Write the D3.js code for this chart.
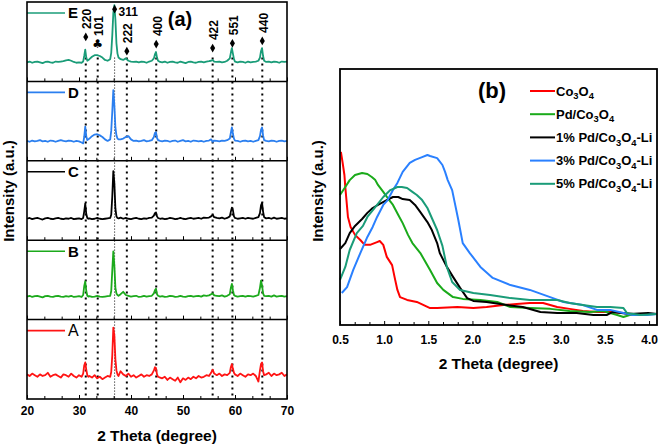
<!DOCTYPE html>
<html><head><meta charset="utf-8">
<script src="https://cdn.jsdelivr.net/npm/d3@7"></script>
<style>
body{margin:0;background:#fff}
svg{display:block}
text{font-family:"Liberation Sans",Arial,Helvetica,sans-serif}
</style>
</head><body>
<svg id="c" width="661" height="444"></svg>
<script>
// ---------------- DATA: panel (a) XRD ----------------
const twoTheta = [
 20,20.5,21,21.5,22,22.5,23,23.5,24,24.5,25,25.5,26,26.5,27,27.5,28,28.5,29,29.5,30,30.5,
 30.8,31.0,31.2,31.4,31.6,31.8,
 32,32.5,33,33.5,34,34.5,35,35.5,36,
 36.2,36.4,36.6,36.8,37.0,37.2,37.4,37.6,
 38,38.5,39,39.5,40,40.5,41,41.5,42,42.5,43,43.5,44,
 44.4,44.6,44.8,45.0,45.2,45.6,
 46,46.5,47,47.5,48,48.5,49,49.5,50,50.5,51,51.5,52,52.5,53,53.5,54,54.5,55,
 55.4,55.7,56,
 56.5,57,57.5,58,58.5,59,
 59.2,59.4,59.6,59.8,
 60,60.5,61,61.5,62,62.5,63,63.5,64,64.5,
 64.8,65.0,65.2,65.4,65.6,
 66,66.5,67,67.5,68,68.5,69,69.5,70
];
const xrdE = [
 24,25,23.5,24.5,25,24,23,24.5,25,24,23.5,25,24.5,25,25.5,26.5,27,26,24.5,23.5,24,23.5,
 25,32,40,30,26,27,
 28,31,33,33,32,30,27,26,28,
 36,58,86,96,78,48,35,30,
 28,27,29,26,25,24.5,25,24,25,24.5,23.5,25,26,
 29,34,37,30,26,24.5,
 24,25,23.5,24.5,25,24,23.5,25,24,23,24.5,25,24,23.5,24.5,25,24,25,25.5,
 26,27,25,
 24.5,25,24,24.5,26,29,
 36,42,35,28,
 25,24,25,24.5,23.5,25,24,24.5,25,26,
 30,38,42,32,26,
 24.5,25,24,25,24.5,23.5,25,24.5,25
];
const xrdD = [
 25,24,25.5,24.5,25,26,24.5,25,24,25.5,25,24,25,26,25,24.5,25.5,25,24,25,24.5,23,
 22,30,43,31,26,27,
 28,31,33,33.5,32,30,27,25,27,
 38,62,89,70,42,32,28,27,
 27,28,30,31,27,25,25.5,24.5,25,26,24.5,25,26,
 30,35,36,29,26,25,
 24.5,25.5,25,24,25,25.5,24,25,26,24.5,25,24,25.5,25,24.5,25,24,25,25.5,
 27,24,25.5,
 25,24.5,25.5,25,26,28,
 35,42,34,28,
 25.5,25,24,25,25.5,24.5,25,24,25,26,
 31,39,42,32,26,
 25,24.5,25.5,25,24,25,25.5,24.5,25
];
const xrdC = [
 27,28,26.5,27.5,28,27,26,27.5,28,27,26.5,27.5,28,27,26.5,27.5,27,28,26.5,27,27.5,26.5,
 28,36,46,33,28,27,
 27.5,26.5,27,28,27,26.5,27,27.5,28,
 32,55,87,72,40,30,28,27.5,
 28.5,27,28,27,26.5,27.5,28,27,26.5,27.5,27,28,28.5,
 31,34,35,30,28,27,
 27.5,26.5,27,28,27.5,26.5,27,28,27,26.5,27.5,28,27,27.5,28,27,28.5,28,28.5,
 30,32,29,
 28,27.5,28.5,27,28,30,
 36,41,38,30,
 28,27,27.5,28,27,28,27.5,27,28,29,
 34,44,47,36,29,
 27.5,28,27,28.5,27,27.5,28,27,27.5
];
const xrdB = [
 29,30,28.5,29.5,30,29,28,29.5,30,29,28.5,29.5,30,29,28.5,29.5,29,30,28.5,29,29.5,28.5,
 31,42,48,36,30,29,
 29.5,28.5,29,30,29,28.5,29,29.5,30,
 36,62,86,68,40,33,31,30,
 32,35,31,30,29,29.5,30,28.5,29,30,29,29.5,30,
 33,37,39,32,30,29,
 29.5,28.5,29,30,29.5,28.5,29,30,29,28.5,29.5,30,29,29.5,30,29,30.5,30,30.5,
 32,33,30.5,
 30,29.5,30.5,29,30,32,
 40,45,37,31,
 30,29,29.5,30,29,30,29.5,29,30,31,
 40,49,43,33,30,
 29.5,30,29,30.5,29,29.5,30,29,29.5
];
const xrdA = [
 31,29,32,30,28,31,29,30,33,28,30,31,29,27,31,30,28,32,29,27,30,28,
 32,42,46,37,30,28,
 29,27,30,26,28,25,27,29,28,
 34,55,90,80,50,36,31,29,
 35,31,29,32,28,30,27,29,31,28,30,29,31,
 36,40,39,31,28,27,
 26,28,24,27,25,23,27,21,26,24,27,25,28,26,29,27,28,30,29,
 33,37,32,
 30,32,29,31,30,33,
 40,44,38,33,
 31,29,32,30,28,31,30,32,29,22,
 36,44,46,35,30,
 31,33,29,32,30,31,33,29,31
];
const xrdNames = ["E","D","C","B","A"];
const xrdTicks = [20,30,40,50,60,70];
// reflections
const peakHkl   = ["220","101","311","222","400","422","551","440"];
const peakTheta = [31.3, 33.6, 36.85, 39.2, 44.85, 55.7, 59.5, 65.25];
const peakKind  = ["spinel","pd","spinel","spinel","spinel","spinel","spinel","spinel"];
const peakMarkH = [56, 47, 91, 38, 47, 42, 48, 51]; // marker height in top-panel units

// ---------------- DATA: panel (b) ----------------
const saxsCo3O4 = [[0.51,67.6],[0.53,63.3],[0.55,58.6],[0.56,53.9],[0.58,46.1],[0.59,42.2],[0.62,38.3],[0.67,35.2],[0.73,33.2],[0.78,31.3],[0.84,31.3],[0.92,32.4],[0.95,32.8],[0.99,31.3],[1.03,26.6],[1.09,23.4],[1.12,18.4],[1.15,13.7],[1.18,10.9],[1.26,9.8],[1.37,9.0],[1.52,6.6],[1.60,6.6],[1.83,7.0],[2.01,6.6],[2.16,7.0],[2.35,7.8],[2.50,8.2],[2.65,8.6],[2.80,8.6],[2.96,7.0],[3.10,6.3],[3.25,5.5],[3.41,5.1],[3.56,5.1],[3.71,4.7],[3.82,4.3],[3.98,4.3],[4.09,4.3]];
const saxsPd = [[0.50,50.8],[0.56,53.9],[0.61,56.6],[0.67,58.6],[0.75,59.4],[0.81,59.0],[0.86,57.8],[0.90,56.6],[0.93,54.7],[0.99,52.0],[1.04,49.6],[1.10,46.9],[1.16,43.0],[1.21,39.8],[1.27,35.2],[1.32,32.0],[1.41,28.1],[1.52,21.5],[1.60,16.4],[1.67,13.7],[1.78,10.9],[1.89,10.2],[2.09,9.8],[2.28,9.0],[2.43,7.0],[2.65,6.6],[2.88,6.3],[3.10,5.5],[3.33,5.1],[3.48,5.5],[3.64,3.9],[3.71,3.1],[3.78,3.9],[3.98,4.3],[4.09,4.3]];
const saxs1Li = [[0.50,29.7],[0.56,32.0],[0.61,35.9],[0.67,38.7],[0.75,41.4],[0.81,43.8],[0.87,45.7],[0.95,47.3],[1.03,48.8],[1.10,50.0],[1.16,50.0],[1.21,49.2],[1.29,48.8],[1.35,46.9],[1.41,44.1],[1.49,40.2],[1.54,37.1],[1.60,32.0],[1.63,28.1],[1.71,22.7],[1.78,18.8],[1.86,14.5],[1.94,10.5],[2.01,9.4],[2.16,9.0],[2.39,7.8],[2.57,7.0],[2.77,5.1],[2.96,4.7],[3.18,4.7],[3.37,3.9],[3.52,3.9],[3.59,5.1],[3.78,4.3],[3.99,4.7],[4.09,4.3]];
const saxs3Li = [[0.52,12.5],[0.58,14.8],[0.65,21.5],[0.73,28.1],[0.81,34.4],[0.87,38.3],[0.92,42.2],[0.99,46.9],[1.04,48.8],[1.10,52.7],[1.15,55.5],[1.21,59.8],[1.29,63.3],[1.35,64.5],[1.43,65.6],[1.49,66.4],[1.52,66.0],[1.60,65.2],[1.66,62.5],[1.69,59.8],[1.72,56.6],[1.77,52.7],[1.80,47.7],[1.84,41.0],[1.89,32.0],[1.97,28.1],[2.09,22.7],[2.23,18.4],[2.43,15.6],[2.65,13.7],[2.88,10.9],[3.03,9.0],[3.25,7.8],[3.41,5.9],[3.56,5.9],[3.71,4.7],[3.82,3.9],[3.98,3.9],[4.09,4.3]];
const saxs5Li = [[0.50,17.6],[0.56,22.7],[0.61,29.3],[0.69,35.9],[0.76,38.7],[0.81,42.2],[0.92,46.9],[0.99,50.0],[1.07,52.7],[1.15,53.9],[1.20,53.9],[1.26,53.5],[1.32,52.0],[1.37,50.8],[1.43,48.8],[1.49,45.7],[1.54,41.8],[1.60,37.1],[1.66,30.9],[1.71,22.7],[1.77,16.8],[1.86,13.7],[2.01,12.5],[2.20,11.7],[2.43,10.5],[2.65,9.8],[2.96,9.8],[3.10,8.6],[3.25,7.8],[3.41,7.0],[3.56,7.0],[3.71,6.6],[3.75,4.7],[3.90,3.9],[4.09,4.3]];
const saxsNames = ["Co_3O_4","Pd/Co_3O_4","1% Pd/Co_3O_4-Li","3% Pd/Co_3O_4-Li","5% Pd/Co_3O_4-Li"];
const saxsTicks = [0.5,1.0,1.5,2.0,2.5,3.0,3.5,4.0];

// ---------------- STYLES ----------------
const xrdColor = {E:"#1a9c78", D:"#2b7fef", C:"#000000", B:"#1caa1c", A:"#ff1414"};
const saxsColor = ["#ff0000","#1aaa1a","#000000","#2a80ff","#1a9c78"];

const svg = d3.select("#c");
const xrdData = {E:xrdE, D:xrdD, C:xrdC, B:xrdB, A:xrdA};
xrdNames.forEach(k => { if (xrdData[k].length !== twoTheta.length) console.error("len", k, xrdData[k].length); });

function minorTicks(major) {
  const out = [];
  for (let i = 0; i < major.length - 1; i++) {
    const a = major[i], b = major[i + 1];
    out.push(a + (b - a) / 3, a + 2 * (b - a) / 3);
  }
  return out;
}

// ================= PANEL (a) =================
const A = {left:27, right:287, top:2, bottom:399};
const xA = d3.scaleLinear().domain([20, 70]).range([A.left, A.right]);
const pH = (A.bottom - A.top) / xrdNames.length;
const yTop = d3.scaleLinear().domain([0, 100]).range([A.top + pH, A.top]);

// dotted reflection lines
peakTheta.forEach((t, i) => {
  const isMain = peakHkl[i] === "311";
  const y0 = Math.max(yTop(peakMarkH[i]) + 6, yTop(30));
  svg.append("line")
    .attr("x1", xA(t)).attr("x2", xA(t))
    .attr("y1", y0).attr("y2", A.bottom)
    .attr("stroke", "#000")
    .attr("stroke-width", isMain ? 1 : 2)
    .attr("stroke-dasharray", isMain ? "1,2" : "2,4");
});

xrdNames.forEach((key, i) => {
  const top = A.top + i * pH, bot = top + pH;
  const y = d3.scaleLinear().domain([0, 100]).range([bot, top]);
  // ticks
  const g = svg.append("g").attr("transform", `translate(0,${bot})`);
  g.call(d3.axisBottom(xA).tickValues(minorTicks(xrdTicks)).tickSize(-3).tickFormat(""));
  g.select(".domain").remove();
  const gm = svg.append("g").attr("transform", `translate(0,${bot})`);
  gm.call(d3.axisBottom(xA).tickValues(xrdTicks).tickSize(-4).tickPadding(7.5)
      .tickFormat(i === xrdNames.length - 1 ? d3.format("d") : ""));
  gm.select(".domain").remove();
  gm.selectAll("text").attr("font-size", 12).attr("font-weight", "bold")
    .attr("font-family", '"Liberation Sans",Arial,sans-serif').attr("fill", "#000");
  // curve
  svg.append("path")
    .datum(twoTheta.map((t, j) => [t, xrdData[key][j]]))
    .attr("fill", "none").attr("stroke", xrdColor[key]).attr("stroke-width", 1.8)
    .attr("stroke-linejoin", "round")
    .attr("d", d3.line().x(d => xA(d[0])).y(d => y(d[1])));
  // legend
  const ly = top + 11;
  svg.append("line").attr("x1", A.left).attr("x2", A.left + 38).attr("y1", ly).attr("y2", ly)
    .attr("stroke", xrdColor[key]).attr("stroke-width", 1.6);
  svg.append("text").attr("x", A.left + 41).attr("y", ly).attr("dy", "0.36em")
    .attr("font-size", key === "A" ? 16 : 15).attr("font-weight", key === "A" ? "normal" : "bold")
    .text(key);
  // separators
  if (i > 0) svg.append("line").attr("x1", A.left).attr("x2", A.right).attr("y1", top).attr("y2", top)
    .attr("stroke", "#000").attr("stroke-width", 1.5);
});
svg.append("rect").attr("x", A.left).attr("y", A.top).attr("width", A.right - A.left)
  .attr("height", A.bottom - A.top).attr("fill", "none").attr("stroke", "#000").attr("stroke-width", 1.6);

// markers and hkl labels
peakTheta.forEach((t, i) => {
  const mx = xA(t), my = yTop(peakMarkH[i]);
  if (peakKind[i] === "pd") {
    svg.append("text").attr("x", mx).attr("y", my).attr("dy", "0.36em").attr("text-anchor", "middle")
      .attr("font-size", 12).style("font-family", "DejaVu Sans").text("\u2663");
  } else {
    svg.append("path").attr("transform", `translate(${mx},${my})`)
      .attr("d", d3.symbol().type(d3.symbolDiamond).size(22)()).attr("fill", "#000");
  }
  if (peakHkl[i] === "311") {
    svg.append("text").attr("x", mx + 4).attr("y", my + 3).attr("dy", "0.36em")
      .attr("font-size", 12).attr("font-weight", "bold").text(peakHkl[i]);
  } else {
    svg.append("text").attr("transform", `translate(${mx + 1},${my - 8}) rotate(-90)`)
      .attr("dy", "0.36em").attr("font-size", 12).attr("font-weight", "bold").text(peakHkl[i]);
  }
});
svg.append("text").attr("x", 180).attr("y", 26).attr("text-anchor", "middle")
  .attr("font-size", 20).attr("font-weight", "bold").text("(a)");
svg.append("text").attr("x", 157).attr("y", 435).attr("dy", "0.36em").attr("text-anchor", "middle")
  .attr("font-size", 15.5).attr("font-weight", "bold").text("2 Theta (degree)");
svg.append("text").attr("transform", "translate(9,191) rotate(-90)").attr("dy", "0.36em")
  .attr("text-anchor", "middle").attr("font-size", 15).attr("font-weight", "bold").text("Intensity (a.u.)");

// ================= PANEL (b) =================
const B = {left:340, right:657, top:69, bottom:325};
const xB = d3.scaleLinear().domain([0.5, 4.09]).range([B.left, B.right]);
const yB = d3.scaleLinear().domain([0, 100]).range([B.bottom, B.top]);
const saxsData = [saxsCo3O4, saxsPd, saxs1Li, saxs3Li, saxs5Li];

const gb1 = svg.append("g").attr("transform", `translate(0,${B.bottom})`);
gb1.call(d3.axisBottom(xB).tickValues(minorTicks(saxsTicks)).tickSize(-3).tickFormat(""));
gb1.select(".domain").remove();
const gb2 = svg.append("g").attr("transform", `translate(0,${B.bottom})`);
gb2.call(d3.axisBottom(xB).tickValues(saxsTicks).tickSize(-4).tickPadding(10.5).tickFormat(d3.format(".1f")));
gb2.select(".domain").remove();
gb2.selectAll("text").attr("font-size", 12).attr("font-weight", "bold")
  .attr("font-family", '"Liberation Sans",Arial,sans-serif').attr("fill", "#000");

saxsData.forEach((s, i) => {
  svg.append("path").datum(s).attr("fill", "none").attr("stroke", saxsColor[i])
    .attr("stroke-width", 2).attr("stroke-linejoin", "round")
    .attr("d", d3.line().x(d => xB(d[0])).y(d => yB(d[1])));
});
svg.append("rect").attr("x", B.left).attr("y", B.top).attr("width", B.right - B.left)
  .attr("height", B.bottom - B.top).attr("fill", "none").attr("stroke", "#000").attr("stroke-width", 1.8);

// legend
function rich(textSel, str, size) {
  const parts = str.split(/(_\d)/).filter(p => p);
  let sub = false;
  parts.forEach(p => {
    if (p[0] === "_") {
      textSel.append("tspan").attr("dy", sub ? 0 : 3.5).attr("font-size", size * 0.72).text(p.slice(1));
      sub = true;
    } else {
      textSel.append("tspan").attr("dy", sub ? -3.5 : 0).text(p);
      sub = false;
    }
  });
}
saxsNames.forEach((n, i) => {
  const ly = 91 + i * 23.2;
  svg.append("line").attr("x1", 530).attr("x2", 555).attr("y1", ly).attr("y2", ly)
    .attr("stroke", saxsColor[i]).attr("stroke-width", 2);
  const t = svg.append("text").attr("x", 556).attr("y", ly + 4.6)
    .attr("font-size", 13).attr("font-weight", "bold");
  rich(t, n, 13);
});
svg.append("text").attr("x", 492).attr("y", 98).attr("text-anchor", "middle")
  .attr("font-size", 22).attr("font-weight", "bold").text("(b)");
svg.append("text").attr("x", 498.5).attr("y", 363).attr("dy", "0.36em").attr("text-anchor", "middle")
  .attr("font-size", 15.5).attr("font-weight", "bold").text("2 Theta (degree)");
svg.append("text").attr("transform", "translate(318,191) rotate(-90)").attr("dy", "0.36em")
  .attr("text-anchor", "middle").attr("font-size", 15).attr("font-weight", "bold").text("Intensity (a.u.)");
</script>
</body></html>
